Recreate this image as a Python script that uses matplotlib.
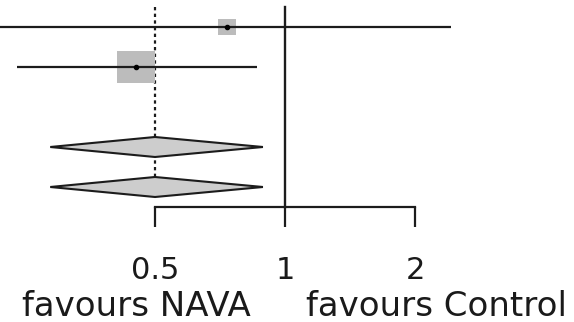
import numpy as np
import matplotlib as mpl
import matplotlib.pyplot as plt
from matplotlib.path import Path

mpl.use('Agg')

# studies (rows 0 and 1) and pooled estimates (rows 3 and 4)
study_est = [0.734, 0.452]
study_lower = [0.21, 0.24]
study_upper = [2.42, 0.86]
study_weight = [0.20, 0.80]
study_rows = [0, 1]

pooled_est = [0.50, 0.50]
pooled_lower = [0.286, 0.286]
pooled_upper = [0.889, 0.889]
pooled_rows = [3, 4]

tick_values = [0.5, 1, 2]
tick_labels = ['0.5', '1', '2']
left_label = 'favours NAVA'
right_label = 'favours Control'

dark = '#1c1c1c'

fig = plt.figure(figsize=(5.74, 3.22), dpi=100)
ax = fig.add_axes([0, 0, 1, 1])
ax.set_xscale('log', base=2)
ax.set_xlim(2 ** (-285 / 130), 2 ** (289 / 130))
ax.set_ylim(7.375, -0.675)

# slightly wide box marker, like the stretched original
box = Path([(-0.575, -0.5), (0.575, -0.5), (0.575, 0.5), (-0.575, 0.5), (-0.575, -0.5)],
           [Path.MOVETO, Path.LINETO, Path.LINETO, Path.LINETO, Path.CLOSEPOLY])

for est, lo, hi, w, r in zip(study_est, study_lower, study_upper, study_weight, study_rows):
    ax.plot([est], [r], marker=box, markersize=30.5 * np.sqrt(w),
            color='#bcbcbc', markeredgewidth=0, linestyle='none', zorder=2)
    ax.plot([lo, hi], [r, r], color=dark, lw=1.6, solid_capstyle='butt', zorder=3)
    ax.plot([est], [r], marker='o', markersize=3, color='black', linestyle='none', zorder=4)

for est, lo, hi, r in zip(pooled_est, pooled_lower, pooled_upper, pooled_rows):
    ax.fill([lo, est, hi, est], [r, r - 0.25, r, r + 0.25],
            facecolor='#cdcdcd', edgecolor=dark, lw=1.5, zorder=3)

# null line and pooled estimate line
ax.plot([1, 1], [-0.5, 4.5], color=dark, lw=1.7, zorder=2)
ax.plot([pooled_est[0]] * 2, [-0.5, 4.25], color=dark, lw=1.6,
        linestyle=(0, (1.5, 1.5)), zorder=1)

for s in ['top', 'left', 'right']:
    ax.spines[s].set_visible(False)
ax.spines['bottom'].set_position(('data', 4.5))
ax.spines['bottom'].set_bounds(tick_values[0], tick_values[-1])
ax.spines['bottom'].set_color(dark)
ax.spines['bottom'].set_linewidth(1.6)
ax.set_yticks([])
ax.set_xticks(tick_values)
ax.set_xticklabels(tick_labels)
ax.xaxis.set_minor_locator(mpl.ticker.NullLocator())
ax.tick_params(axis='x', direction='out', length=14.4, width=1.6, color=dark,
               pad=21, labelsize=22, labelcolor='#1a1a1a')

fig.text(136 / 574, 6 / 322, left_label, ha='center', va='baseline', fontsize=24.5, color='#1a1a1a')
fig.text(436 / 574, 6 / 322, right_label, ha='center', va='baseline', fontsize=24.5, color='#1a1a1a')

fig.savefig('out.png', dpi=100)
